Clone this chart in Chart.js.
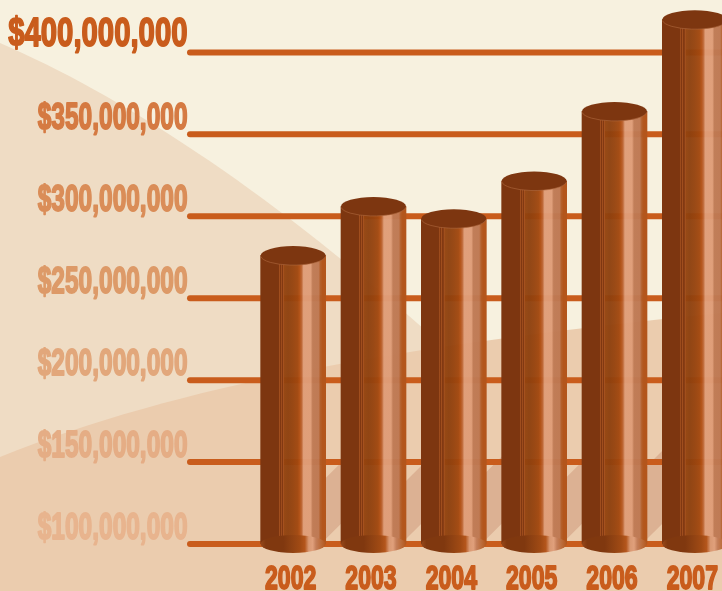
<!DOCTYPE html>
<html>
<head>
<meta charset="utf-8">
<title>Chart</title>
<script src="https://cdn.jsdelivr.net/npm/chart.js@4/dist/chart.umd.min.js"></script>
<style>
  html, body { margin: 0; padding: 0; background: #f7f1df; overflow: hidden; }
  canvas { display: block; }
</style>
</head>
<body>
<!-- the last bar runs off the right edge, so the canvas is a little wider than the window -->
<canvas id="chart" width="735" height="591"></canvas>
<script>
const years = ['2002', '2003', '2004', '2005', '2006', '2007'];
const revenue = [276000000, 306000000, 298500000, 321500000, 364000000, 420000000];
const tickValues = [100000000, 150000000, 200000000, 250000000, 300000000, 350000000, 400000000];
const tickColors = ['#e8b48e', '#e5ad85', '#e2a77b', '#dd9a68', '#da8d58', '#d57a42', '#c95c1c'];

const ORANGE = '#c95c1c';
const DARK = '#7d3610';
const FONT = '"Liberation Sans", sans-serif';
// how high the cast shadow reaches in the gap right of each bar
const shadowTops = [479, 482, 473, 478, 467];

function sideGradient(c, left, width, stops) {
  const g = c.createLinearGradient(left, 0, left + width, 0);
  stops.forEach(s => g.addColorStop(s[0], s[1]));
  return g;
}

const barStops = [
  [0, '#7d3610'], [0.275, '#7d3610'], [0.28, '#a04e1e'], [0.29, '#a04e1e'], [0.295, '#7f3711'],
  [0.305, '#7f3711'], [0.31, '#a04e1e'], [0.32, '#a04e1e'], [0.325, '#823912'], [0.34, '#823912'],
  [0.345, '#a5511f'], [0.355, '#a5511f'], [0.36, 'rgba(147,67,14,0.96)'], [0.42, 'rgba(141,64,14,0.96)'],
  [0.5, 'rgba(150,67,14,0.96)'], [0.57, 'rgba(161,71,14,0.96)'], [0.6, 'rgba(177,79,19,0.96)'],
  [0.63, 'rgba(188,100,50,0.97)'], [0.66, 'rgba(223,157,120,0.97)'], [0.77, 'rgba(223,157,120,0.97)'],
  [0.8, 'rgba(191,122,84,0.97)'], [0.89, 'rgba(190,120,82,0.97)'], [0.92, 'rgba(178,92,38,0.97)'],
  [0.95, '#b3561c'], [1, '#b3561c']
];
const capStops = [
  [0, '#96481a'], [0.08, '#80380f'], [0.35, '#80380f'], [0.45, '#8c4012'], [0.6, '#a04a14'],
  [0.68, '#b4561c'], [0.74, '#d99872'], [0.8, '#e0a07c'], [0.85, '#c47f5a'], [0.93, '#bb6a38'], [1, '#b3561c']
];

function barFill(context) {
  const chart = context.chart;
  if (!chart.chartArea) return DARK;
  const x = chart.scales.x.getPixelForValue(context.dataIndex);
  const w = context.dataset.barThickness;
  return sideGradient(chart.ctx, x - w / 2, w, barStops);
}

// squeezed heavy text, no condensed face is installed
function narrowText(c, text, x, y, size, squeeze, align, color) {
  c.save();
  c.translate(x, y);
  c.scale(squeeze, 1);
  c.font = 'bold ' + size + 'px ' + FONT;
  c.textAlign = align;
  c.textBaseline = 'alphabetic';
  c.lineJoin = 'round';
  c.fillStyle = color;
  c.strokeStyle = color;
  c.lineWidth = 1.8;
  c.strokeText(text, 0, 0);
  c.fillText(text, 0, 0);
  c.restore();
}

const scenery = {
  id: 'scenery',
  beforeDraw(chart) {
    const c = chart.ctx;
    c.save();
    c.fillStyle = '#f7f1df';
    c.fillRect(0, 0, chart.width, chart.height);
    c.fillStyle = '#efdcc4';
    c.beginPath();
    c.moveTo(0, 43);
    c.bezierCurveTo(120, 95, 260, 185, 425, 330);
    c.lineTo(425, 591);
    c.lineTo(0, 591);
    c.closePath();
    c.fill();
    c.fillStyle = '#ebccae';
    c.beginPath();
    c.moveTo(0, 457);
    c.bezierCurveTo(180, 385, 400, 345, 722, 313);
    c.lineTo(735, 312);
    c.lineTo(735, 591);
    c.lineTo(0, 591);
    c.closePath();
    c.fill();
    c.restore();
  },
  beforeDatasetsDraw(chart) {
    const c = chart.ctx;
    const bars = chart.getDatasetMeta(0).data;
    c.save();
    // shadow in the gaps
    c.fillStyle = '#dcb193';
    bars.slice(0, -1).forEach((bar, i) => {
      const r = bar.x + bar.width / 2 - 1;
      const next = bars[i + 1].x - bars[i + 1].width / 2 + 1;
      const d = next - r;
      c.beginPath();
      c.moveTo(r, shadowTops[i]);
      c.lineTo(next, shadowTops[i] - d);
      c.lineTo(next, bar.base - 4 - d);
      c.lineTo(r, bar.base - 4);
      c.closePath();
      c.fill();
    });
    // grid lines with round ends
    const y = chart.scales.y;
    c.strokeStyle = ORANGE;
    c.lineWidth = 6;
    c.lineCap = 'round';
    y.ticks.forEach((t, i) => {
      const py = y.getPixelForTick(i);
      c.beginPath();
      c.moveTo(190, py);
      c.lineTo(chart.width + 10, py);
      c.stroke();
    });
    c.restore();
  },
  afterDatasetsDraw(chart) {
    const c = chart.ctx;
    c.save();
    chart.getDatasetMeta(0).data.forEach(bar => {
      const rx = bar.width / 2;
      c.fillStyle = sideGradient(c, bar.x - rx, bar.width, capStops);
      c.beginPath();
      c.ellipse(bar.x, bar.base, rx, 9, 0, 0, Math.PI * 2);
      c.fill();
      c.fillStyle = DARK;
      c.strokeStyle = '#b0693f';
      c.lineWidth = 0.6;
      c.beginPath();
      c.ellipse(bar.x, bar.y, rx, 9.5, 0, 0, Math.PI * 2);
      c.fill();
      c.beginPath();
      c.ellipse(bar.x, bar.y, rx, 9.5, 0, 0.1, Math.PI - 0.1);
      c.stroke();
    });
    c.restore();
  },
  afterDraw(chart) {
    const c = chart.ctx;
    const y = chart.scales.y;
    const x = chart.scales.x;
    y.ticks.forEach((t, i) => {
      const big = t.value === 400000000;
      narrowText(c, t.label, 187.5, y.getPixelForTick(i) - (big ? 6 : 5), big ? 41 : 36, big ? 0.715 : 0.68, 'right', tickColors[i]);
    });
    x.ticks.forEach((t, i) => {
      narrowText(c, t.label, x.getPixelForTick(i) - 2.5, 589, 33, 0.7, 'center', ORANGE);
    });
  }
};

new Chart(document.getElementById('chart'), {
  type: 'bar',
  data: {
    labels: years,
    datasets: [{
      data: revenue,
      base: tickValues[0],
      barThickness: 65,
      backgroundColor: barFill,
      borderWidth: 0
    }]
  },
  options: {
    responsive: false,
    animation: false,
    plugins: { legend: { display: false }, tooltip: { enabled: false } },
    scales: {
      x: {
        grid: { display: false, drawTicks: false },
        border: { display: false },
        afterFit: s => { s.height = 47; s.paddingLeft = 0; s.paddingRight = 0; },
        ticks: { display: false, autoSkip: false, maxRotation: 0 }
      },
      y: {
        min: 100000000,
        max: 432000000,
        grid: { display: false, drawTicks: false },
        border: { display: false },
        afterFit: s => { s.width = 253; s.paddingTop = 0; s.paddingBottom = 0; },
        afterBuildTicks: s => { s.ticks = tickValues.map(v => ({ value: v })); },
        ticks: {
          display: false,
          callback: v => '$' + v.toLocaleString('en-US')
        }
      }
    }
  },
  plugins: [scenery]
});
</script>
</body>
</html>
